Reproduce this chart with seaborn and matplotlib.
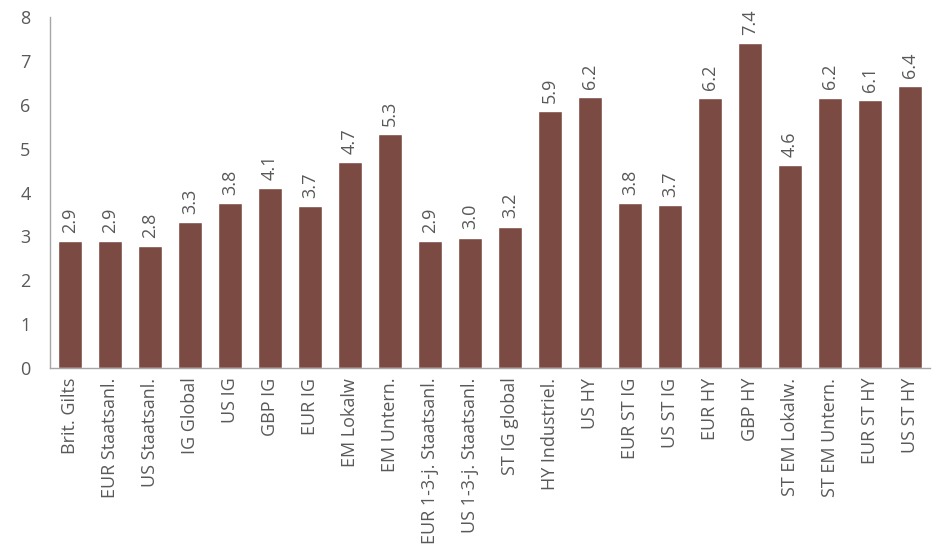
import matplotlib
matplotlib.use("Agg")
import matplotlib.pyplot as plt
import seaborn as sns
import pandas as pd

categories = ["Brit. Gilts", "EUR Staatsanl.", "US Staatsanl.", "IG Global", "US IG", "GBP IG",
              "EUR IG", "EM Lokalw", "EM Untern.", "EUR 1-3-j. Staatsanl.", "US 1-3-j. Staatsanl.",
              "ST IG global", "HY Industriel.", "US HY", "EUR ST IG", "US ST IG", "EUR HY", "GBP HY",
              "ST EM Lokalw.", "ST EM Untern.", "EUR ST HY", "US ST HY"]
values = [2.89, 2.89, 2.78, 3.33, 3.76, 4.10, 3.69, 4.69, 5.33, 2.89, 2.97, 3.22,
          5.86, 6.17, 3.76, 3.71, 6.15, 7.40, 4.62, 6.16, 6.10, 6.42]
yticks = [0, 1, 2, 3, 4, 5, 6, 7, 8]

df = pd.DataFrame({"cat": categories, "val": values})

sns.set_theme(style="white")
plt.rcParams["font.family"] = ["Open Sans", "DejaVu Sans"]

grey = "#595959"
fig = plt.figure(figsize=(9.39, 5.57), dpi=100)
ax = fig.add_axes([50/939, (557-368)/557, 880/939, (368-17)/557])
sns.barplot(data=df, x="cat", y="val", color="#7B4A42", saturation=1, width=0.58, ax=ax)

for i, v in enumerate(values):
    ax.annotate(f"{v:.1f}", xy=(i, v), xytext=(0, 6), textcoords="offset points",
                rotation=90, ha="center", va="bottom", fontsize=13, color=grey)

ax.set_xlim(-0.5, 21.5)
ax.set_ylim(0, 8)
ax.set_yticks(yticks)
ax.set_yticklabels([str(t) for t in yticks])
ax.set_xlabel("")
ax.set_ylabel("")
ax.tick_params(axis="x", rotation=90, labelsize=13, colors=grey, length=0, pad=7)
ax.tick_params(axis="y", labelsize=13, colors=grey, length=0, pad=14)
for s in ["top", "right"]:
    ax.spines[s].set_visible(False)
for s in ["left", "bottom"]:
    ax.spines[s].set_color("#A6A6A6")
    ax.spines[s].set_linewidth(1)

fig.savefig("out.png", dpi=100)
